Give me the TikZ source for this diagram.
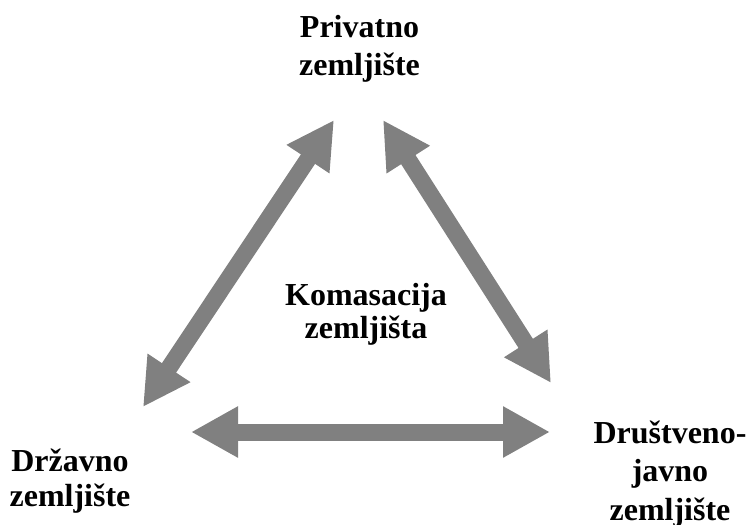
\documentclass[tikz,border=0pt]{standalone}
\usepackage{fontspec}
\setmainfont{Liberation Serif}
\usetikzlibrary{arrows.meta}
\definecolor{arrowgray}{RGB}{128,128,128}
\begin{document}
\begin{tikzpicture}[x=1pt,y=-1pt,
  label/.style={anchor=base,align=center,inner sep=0pt,font=\bfseries\fontsize{32}{#1}\selectfont},
  bigarrow/.style={draw=arrowgray,line width=17pt,
    {Triangle[length=47pt,width=48pt]}-{Triangle[length=47pt,width=48pt]}}]
  \useasboundingbox (0,0) rectangle (748,525);

  % the four labels (placed by the baseline of their last line)
  \node[label=38]   (privatno) at (359.5,75) {Privatno\\zemljište};
  \node[label=35]   (drzavno)  at (70,506)   {Državno\\zemljište};
  \node[label=38.5] (drustveno) at (670,520) {Društveno-\\javno\\zemljište};
  \node[label=33.5] (komasacija) at (366,338.5) {Komasacija\\zemljišta};

  % arrow end points
  \coordinate (p-l) at (334,120);
  \coordinate (p-r) at (383,120);
  \coordinate (d-t) at (143,407);
  \coordinate (d-r) at (191,432);
  \coordinate (j-t) at (551,383);
  \coordinate (j-l) at (550,432);

  % double-headed connectors
  \draw[bigarrow] (p-l) -- (d-t);
  \draw[bigarrow] (p-r) -- (j-t);
  \draw[bigarrow] (d-r) -- (j-l);
\end{tikzpicture}
\end{document}
